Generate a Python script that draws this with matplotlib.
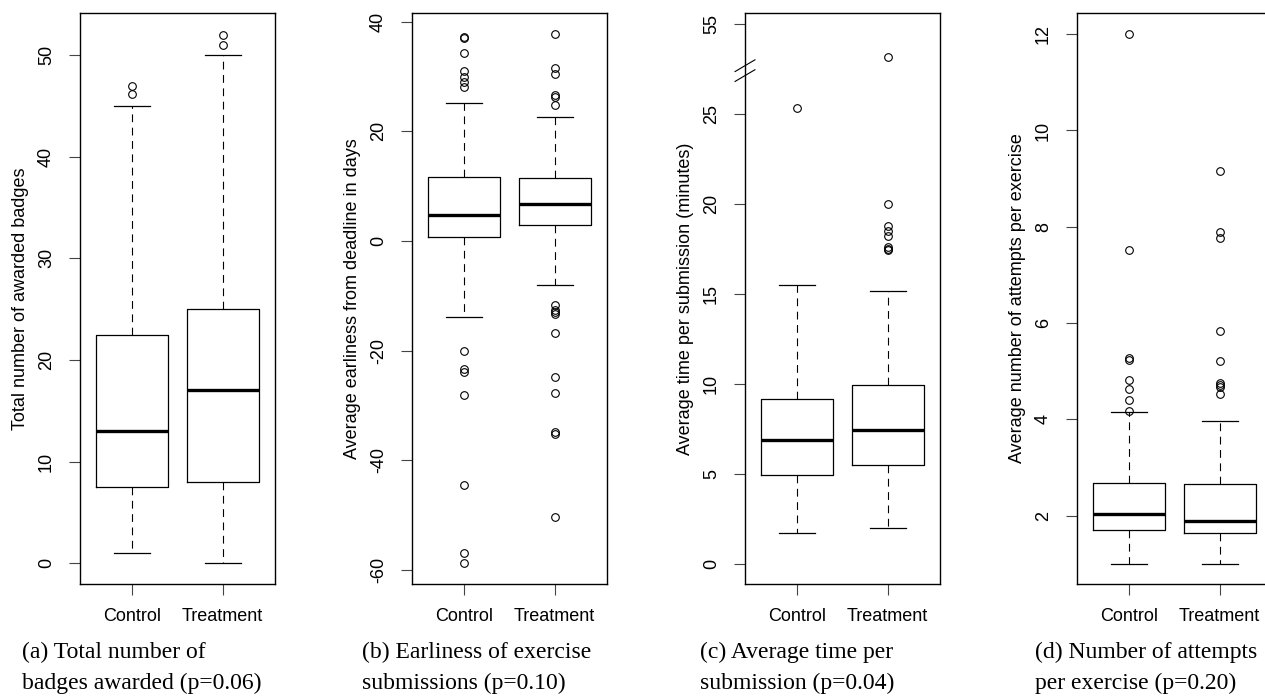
import numpy as np
import matplotlib
matplotlib.use("Agg")
import matplotlib.pyplot as plt

plt.rcParams['font.family'] = ['Liberation Sans', 'DejaVu Sans']

groups = ["Control", "Treatment"]

# (a) total number of awarded badges
badges_q1 = [7.5, 8.0]
badges_med = [13.0, 17.0]
badges_q3 = [22.5, 25.0]
badges_lo = [1.0, 0.0]
badges_hi = [45.0, 50.0]
badges_out = [[46.2, 47.0], [51.0, 52.0]]

# (b) earliness from deadline (days)
early_q1 = [0.7, 3.0]
early_med = [4.7, 6.8]
early_q3 = [11.6, 11.4]
early_lo = [-13.8, -8.1]
early_hi = [25.2, 22.7]
early_out = [
    [37.3, 37.0, 34.3, 31.0, 30.0, 29.0, 28.1, -20.0, -23.4, -23.9, -28.1, -44.6, -56.9, -58.7],
    [37.7, 31.6, 30.4, 26.6, 26.2, 24.8, -11.7, -12.6, -13.0, -13.3, -16.8, -24.9, -27.7,
     -34.8, -35.2, -50.4],
]

# (c) average time per submission (minutes), axis broken above ~27
time_q1 = [4.95, 5.5]
time_med = [6.92, 7.45]
time_q3 = [9.17, 9.97]
time_lo = [1.73, 2.0]
time_hi = [15.5, 15.18]
time_out = [[25.3], [53.15, 19.98, 18.8, 18.5, 18.2, 17.6, 17.5, 17.46]]

# (d) attempts per exercise
att_q1 = [1.70, 1.63]
att_med = [2.04, 1.89]
att_q3 = [2.68, 2.66]
att_lo = [1.0, 1.0]
att_hi = [4.15, 3.97]
att_out = [[12.0, 7.51, 5.28, 5.23, 4.81, 4.63, 4.40, 4.18],
           [9.15, 7.9, 7.76, 5.83, 5.22, 4.75, 4.71, 4.67, 4.52]]

BREAK_SHIFT = 25  # values above the break are drawn 25 lower


def squash(v):
    return v - BREAK_SHIFT if v > 40 else v


panels = [
    dict(q1=badges_q1, med=badges_med, q3=badges_q3, lo=badges_lo, hi=badges_hi, out=badges_out,
         ylab="Total number of awarded badges", ylim=(-2.06, 54.16), ticks=[0, 10, 20, 30, 40, 50],
         cap=["(a) Total number of", "badges awarded (p=0.06)"], cx=22),
    dict(q1=early_q1, med=early_med, q3=early_q3, lo=early_lo, hi=early_hi, out=early_out,
         ylab="Average earliness from deadline in days", ylim=(-62.6, 41.6),
         ticks=[-60, -40, -20, 0, 20, 40],
         cap=["(b) Earliness of exercise", "submissions (p=0.10)"], cx=362),
    dict(q1=time_q1, med=time_med, q3=time_q3, lo=time_lo, hi=time_hi,
         out=[[squash(v) for v in g] for g in time_out],
         ylab="Average time per submission (minutes)", ylim=(-1.1, 30.6),
         ticks=[0, 5, 10, 15, 20, 25, 30],
         cap=["(c) Average time per", "submission (p=0.04)"], cx=700),
    dict(q1=att_q1, med=att_med, q3=att_q3, lo=att_lo, hi=att_hi, out=att_out,
         ylab="Average number of attempts per exercise", ylim=(0.58, 12.44),
         ticks=[2, 4, 6, 8, 10, 12],
         cap=["(d) Number of attempts", "per exercise (p=0.20)"], cx=1035),
]

W, H = 1265, 698
fig = plt.figure(figsize=(W / 100, H / 100), dpi=100)
lefts = [80, 412, 745, 1077]
top, bottom = 13, 584

for p, left in zip(panels, lefts):
    ax = fig.add_axes([left / W, (H - bottom) / H, 195 / W, (bottom - top) / H])
    stats = []
    for i in range(2):
        stats.append(dict(q1=p["q1"][i], med=p["med"][i], q3=p["q3"][i],
                          whislo=p["lo"][i], whishi=p["hi"][i], fliers=p["out"][i]))
    ax.bxp(stats, positions=[1, 2], widths=0.8, capwidths=0.4, showfliers=True,
           boxprops=dict(color="black", linewidth=0.9),
           medianprops=dict(color="black", linewidth=2.4),
           whiskerprops=dict(color="black", linewidth=0.8, linestyle=(0, (7, 5))),
           capprops=dict(color="black", linewidth=0.9),
           flierprops=dict(marker="o", markersize=5.5, markerfacecolor="none",
                           markeredgecolor="black", markeredgewidth=0.8))
    ax.set_xlim(0.42, 2.58)
    ax.set_ylim(*p["ylim"])
    ax.set_xticks([1, 2])
    ax.set_xticklabels(groups, fontsize=13)
    ax.set_yticks(p["ticks"])
    labels = [str(t) for t in p["ticks"]]
    if p is panels[2]:
        labels[-1] = "55"
    ax.set_yticklabels(labels, fontsize=13, rotation=90, va="center")
    ax.tick_params(axis="both", length=8, width=0.8, color="#444444")
    ax.tick_params(axis="y", pad=10)
    ax.tick_params(axis="x", pad=9)
    for s in ax.spines.values():
        s.set_linewidth(1.0)
    ax.set_ylabel(p["ylab"], fontsize=13)
    ax.yaxis.set_label_coords(-0.262, 0.5)
    fig.text(p["cx"] / W, 1 - 652 / H, p["cap"][0], family="Liberation Serif",
             fontsize=17, va="center", ha="left")
    fig.text(p["cx"] / W, 1 - 683 / H, p["cap"][1], family="Liberation Serif",
             fontsize=17, va="center", ha="left")

# break marks on the left axis of panel (c)
ax_c = fig.axes[2]
for dy in (0.0, -0.55):
    ax_c.plot([0.31, 0.53], [27.35 + dy, 28.0 + dy], color="black", linewidth=0.8,
              clip_on=False)

fig.savefig("out.png", dpi=100)
